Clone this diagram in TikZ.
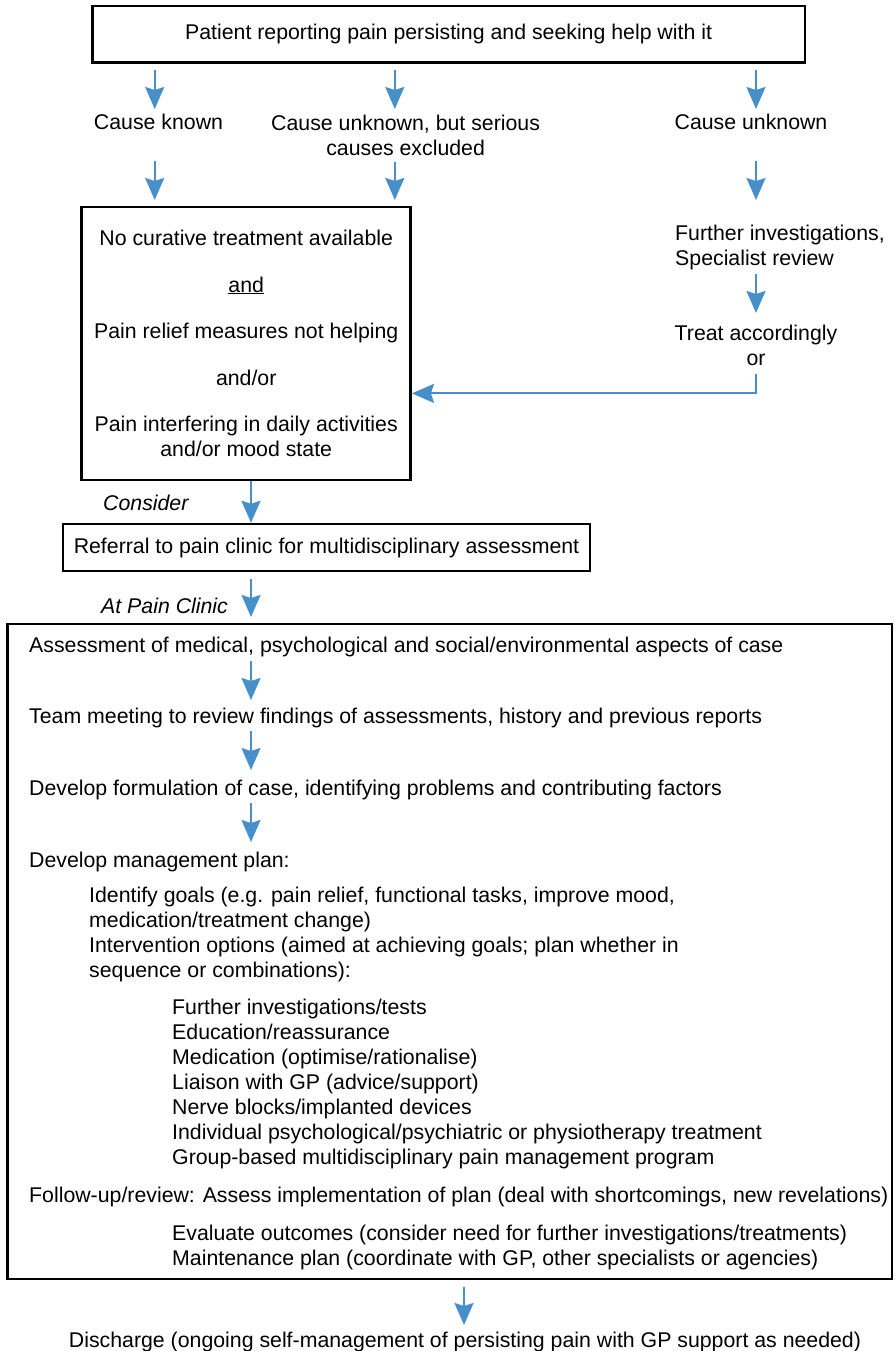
\documentclass[tikz,border=0pt]{standalone}
\usepackage{fontspec}
\setmainfont{Liberation Sans}
\usetikzlibrary{arrows.meta}
\definecolor{flowblue}{RGB}{70,143,202}
\newcommand{\figfont}{\fontsize{21.3pt}{25pt}\selectfont}
\tikzset{
  box/.style={draw, line width=2.5pt, inner sep=0pt},
  lbl/.style={inner sep=0pt, font=\figfont},
  flow/.style={draw=flowblue, line width=2pt, -{Stealth[length=22pt,width=19pt,inset=3pt]}}
}

\begin{document}
\begin{tikzpicture}[x=1pt,y=-1pt]
  \useasboundingbox (0,0) rectangle (894,1351);

  % arrow columns
  \coordinate (colA) at (154.7,0);
  \coordinate (colB) at (394.8,0);
  \coordinate (colC) at (756,0);
  \coordinate (colD) at (251,0);
  \coordinate (colE) at (464,0);

  \node[box, lbl, minimum width=712.7pt, minimum height=56.7pt] (patient) at (448.6,34.4) {Patient reporting pain persisting and seeking help with it};

  \node[lbl, anchor=north] (known) at (158.5,114) {Cause known};
  \node[lbl, anchor=north, align=center] (excluded) at (405.6,115) {Cause unknown, but serious\\causes excluded};
  \node[lbl, anchor=north] (unknown) at (751,114) {Cause unknown};

  \node[box, lbl, align=center, minimum width=329pt, minimum height=273.3pt] (nocure) at (246.2,343.4) {No curative treatment available\\[21.5pt]
    \underline{and}\\[21.5pt]
    Pain relief measures not helping\\[21.5pt]
    and/or\\[21.5pt]
    Pain interfering in daily activities\\and/or mood state};

  \node[lbl, anchor=north west, align=left] (further) at (675,225) {Further investigations,\\Specialist review};
  \node[lbl, anchor=north, align=center] (treat) at (756,325) {Treat accordingly\\or};

  \node[lbl, anchor=north west, font=\figfont\itshape] (consider) at (103,495) {Consider};
  \node[box, lbl, minimum width=527pt, minimum height=47pt] (referral) at (326.5,547.5) {Referral to pain clinic for multidisciplinary assessment};
  \node[lbl, anchor=north west, font=\figfont\itshape] (atclinic) at (101,598) {At Pain Clinic};

  % pain clinic frame
  \node[box, minimum width=884.5pt, minimum height=655pt] (clinic) at (449.75,951.5) {};

  \node[lbl, anchor=north west] (assess) at (29,637) {Assessment of medical, psychological and social/environmental aspects of case};
  \node[lbl, anchor=north west] (team) at (29,708) {Team meeting to review findings of assessments, history and previous reports};
  \node[lbl, anchor=north west] (formulate) at (29,780) {Develop formulation of case, identifying problems and contributing factors};
  \node[lbl, anchor=north west] (plan) at (29,852) {Develop management plan:};
  \node[lbl, anchor=north west, align=left] (goals) at (89,887) {Identify goals (e.g. pain relief, functional tasks, improve mood,\\medication/treatment change)};
  \node[lbl, anchor=north west, align=left] (options) at (89,937) {Intervention options (aimed at achieving goals; plan whether in\\sequence or combinations):};
  \node[lbl, anchor=north west, align=left] (measures) at (172,999) {Further investigations/tests\\
    Education/reassurance\\
    Medication (optimise/rationalise)\\
    Liaison with GP (advice/support)\\
    Nerve blocks/implanted devices\\
    Individual psychological/psychiatric or physiotherapy treatment\\
    Group-based multidisciplinary pain management program};
  \node[lbl, anchor=north west] (followup) at (29,1187) {Follow-up/review: Assess implementation of plan (deal with shortcomings, new revelations)};
  \node[lbl, anchor=north west, align=left] (outcomes) at (172,1225) {Evaluate outcomes (consider need for further investigations/treatments)\\Maintenance plan (coordinate with GP, other specialists or agencies)};

  \node[lbl, anchor=north] (discharge) at (465,1332) {Discharge (ongoing self-management of persisting pain with GP support as needed)};

  % connectors
  \draw[flow, shorten <=6pt, shorten >=5pt] (patient.south -| colA) -- (known.north -| colA);
  \draw[flow, shorten <=6pt, shorten >=6pt] (patient.south -| colB) -- (excluded.north -| colB);
  \draw[flow, shorten <=6pt, shorten >=5pt] (patient.south -| colC) -- (unknown.north -| colC);

  \draw[flow, shorten <=31.4pt, shorten >=5.5pt] (known.south -| colA) -- (nocure.north -| colA);
  \draw[flow, shorten <=6.4pt, shorten >=5.5pt] (excluded.south -| colB) -- (nocure.north -| colB);
  \draw[flow, shorten <=31.4pt, shorten >=25pt] (unknown.south -| colC) -- (further.north -| colC);
  \draw[flow, shorten <=4pt, shorten >=12pt] (further.south -| colC) -- (treat.north -| colC);
  \draw[flow, shorten <=8.4pt] (treat.south -| colC) |- ([yshift=-50pt]nocure.east);

  \draw[flow] (nocure.south -| colD) -- (referral.north -| colD);
  \draw[flow, shorten <=6.75pt, shorten >=5.75pt] (referral.south -| colD) -- (clinic.north -| colD);
  \draw[flow, shorten <=3.9pt, shorten >=8pt] (assess.south -| colD) -- (team.north -| colD);
  \draw[flow, shorten <=2.9pt, shorten >=10pt] (team.south -| colD) -- (formulate.north -| colD);
  \draw[flow, shorten <=2.9pt, shorten >=10pt] (formulate.south -| colD) -- (plan.north -| colD);
  \draw[flow, shorten <=6.75pt, shorten >=7pt] (clinic.south -| colE) -- (discharge.north -| colE);
\end{tikzpicture}
\end{document}
